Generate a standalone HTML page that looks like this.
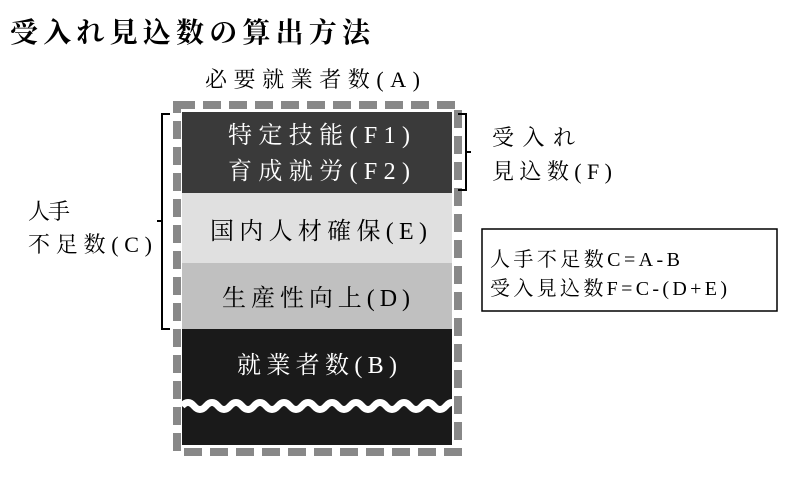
<!DOCTYPE html>
<html><head><meta charset="utf-8"><style>
html,body{margin:0;padding:0;background:#fff;width:800px;height:478px;overflow:hidden}
svg text{font-family:"Liberation Serif","Noto Serif CJK SC",serif}
</style></head><body>
<svg width="800" height="478" xmlns="http://www.w3.org/2000/svg">
<text x="10" y="42" font-size="28" font-weight="bold" textLength="360" lengthAdjust="spacing">受入れ見込数の算出方法</text>
<text x="205" y="87" font-size="22" textLength="215" lengthAdjust="spacing">必要就業者数(A)</text>
<rect x="182" y="112" width="270" height="81" fill="#3a3a3a"/>
<rect x="182" y="193" width="270" height="70" fill="#e0e0e0"/>
<rect x="182" y="263" width="270" height="66" fill="#c0c0c0"/>
<rect x="182" y="329" width="270" height="116" fill="#1a1a1a"/>
<path d="M182,406 q6,-7 12,0 t12,0 t12,0 t12,0 t12,0 t12,0 t12,0 t12,0 t12,0 t12,0 t12,0 t12,0 t12,0 t12,0 t12,0 t12,0 t12,0 t12,0 t12,0 t12,0 t12,0 t12,0 t12,0" fill="none" stroke="#fff" stroke-width="7"/>
<rect x="177" y="105" width="281" height="347" fill="none" stroke="#888" stroke-width="8" stroke-dasharray="18,8"/>
<g fill="#fff" font-size="24">
<text x="228" y="143" textLength="182" lengthAdjust="spacing">特定技能(F1)</text>
<text x="228" y="179" textLength="182" lengthAdjust="spacing">育成就労(F2)</text>
<text x="237" y="373" textLength="160" lengthAdjust="spacing">就業者数(B)</text>
</g>
<text x="210" y="239" font-size="24" textLength="217" lengthAdjust="spacing">国内人材確保(E)</text>
<text x="222" y="306" font-size="24" textLength="188" lengthAdjust="spacing">生産性向上(D)</text>
<path d="M170,114 h-8 v107 h-5 M162,221 v108 h8" fill="none" stroke="#000" stroke-width="2"/>
<path d="M458,114 h8 v38 h5 M466,152 v38 h-8" fill="none" stroke="#000" stroke-width="2"/>
<text x="28" y="219" font-size="22" textLength="42" lengthAdjust="spacing">人手</text>
<text x="28" y="252" font-size="22" textLength="124" lengthAdjust="spacing">不足数(C)</text>
<text x="492" y="145" font-size="22" textLength="83" lengthAdjust="spacing">受入れ</text>
<text x="492" y="179" font-size="22" textLength="120" lengthAdjust="spacing">見込数(F)</text>
<rect x="482" y="229" width="295" height="82" fill="none" stroke="#000" stroke-width="1.5"/>
<text x="490" y="266" font-size="20" textLength="190" lengthAdjust="spacing">人手不足数C=A-B</text>
<text x="490" y="295" font-size="20" textLength="237" lengthAdjust="spacing">受入見込数F=C-(D+E)</text>
</svg>
</body></html>
